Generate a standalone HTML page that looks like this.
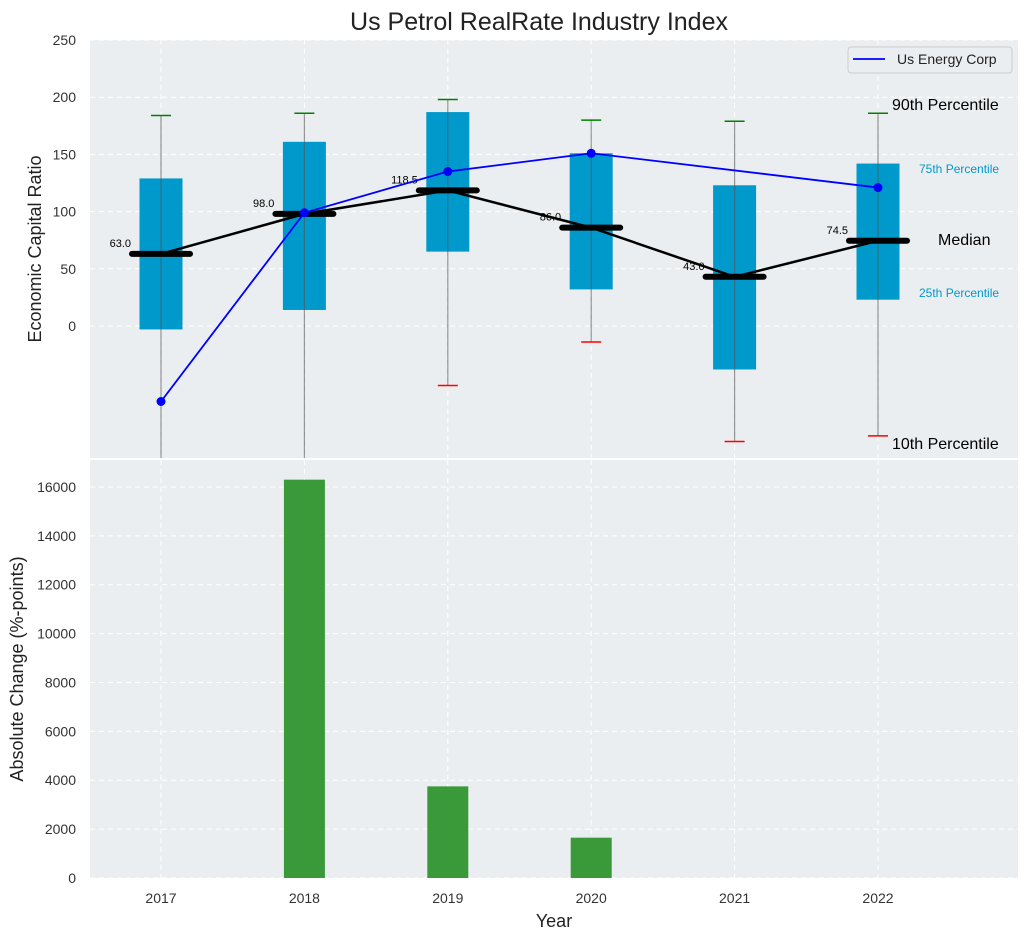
<!DOCTYPE html>
<html><head><meta charset="utf-8"><style>
body{margin:0;background:#fff;font-family:"Liberation Sans",sans-serif}
svg text{font-family:"Liberation Sans",sans-serif}
</style></head><body>
<svg id="c" width="1029" height="940" xmlns="http://www.w3.org/2000/svg"></svg>
<script>
const years=[2017,2018,2019,2020,2021,2022];
const q1=[-3,14,65,32,-38,23];
const q3=[129,161,187,151,123,142];
const medians=[63.0,98.0,118.5,86.0,43.0,74.5];
const p90=[184,186,198,180,179,186];
const p10=[-140,-150,-52,-14,-101,-96];
const energyYears=[2017,2018,2019,2020,2022];
const energyVals=[-66,99,135,151,121];
const changeYears=[2018,2019,2020];
const changeVals=[16300,3750,1650];
const topTicks=[0,50,100,150,200,250];
const botTicks=[0,2000,4000,6000,8000,10000,12000,14000,16000];

const svg=document.getElementById('c');const NS='http://www.w3.org/2000/svg';
function el(t,a,p){const e=document.createElementNS(NS,t);for(const k in a)e.setAttribute(k,a[k]);(p||svg).appendChild(e);return e;}
const L=90,R=1018,T1=40,B1=458,T2=460,B2=878;
const x=v=>161+(v-2017)*143.4;
const y1=v=>326-v*1.144;
const y2=v=>878-v*0.024438;

let t=el('text',{x:539,y:30,'text-anchor':'middle','font-size':25,fill:'#222'});t.textContent='Us Petrol RealRate Industry Index';


let bg=el('rect',{x:L,y:T1,width:R-L,height:B1-T1,fill:'#ebeef0'});
bg=el('rect',{x:L,y:T2,width:R-L,height:B2-T2,fill:'#ebeef0'});

const clip=el('clipPath',{id:'cp'});el('rect',{x:L,y:T1,width:R-L,height:B1-T1},clip);
const g=el('g',{'clip-path':'url(#cp)'});

years.forEach(yr=>{el('line',{x1:x(yr),x2:x(yr),y1:T1,y2:B1,stroke:'#fff','stroke-dasharray':'5,4'},g);el('line',{x1:x(yr),x2:x(yr),y1:T2,y2:B2,stroke:'#fff','stroke-dasharray':'5,4'});});
topTicks.forEach(v=>{el('line',{x1:L,x2:R,y1:y1(v),y2:y1(v),stroke:'#fff','stroke-dasharray':'5,4'},g);
 const tt=el('text',{x:76,y:y1(v)+5,'text-anchor':'end','font-size':14,fill:'#333'});tt.textContent=v;
 });
botTicks.forEach(v=>{el('line',{x1:L,x2:R,y1:y2(v),y2:y2(v),stroke:'#fff','stroke-dasharray':'5,4'});
 const tt=el('text',{x:76,y:y2(v)+5,'text-anchor':'end','font-size':14,fill:'#333'});tt.textContent=v;
 });

years.forEach((yr,i)=>{const cx=x(yr);
 const b=el('rect',{x:cx-21.5,y:y1(q3[i]),width:43,height:y1(q1[i])-y1(q3[i]),fill:'#0099cc'},g);
 
 el('line',{x1:cx,x2:cx,y1:y1(p10[i]),y2:y1(p90[i]),stroke:'#555','stroke-opacity':0.6,'stroke-width':1.2},g);
 el('line',{x1:cx-10,x2:cx+10,y1:y1(p90[i]),y2:y1(p90[i]),stroke:'green','stroke-width':1.5},g);
 el('line',{x1:cx-10,x2:cx+10,y1:y1(p10[i]),y2:y1(p10[i]),stroke:'red','stroke-width':1.5},g);
});
el('polyline',{points:years.map((yr,i)=>x(yr)+','+y1(medians[i])).join(' '),fill:'none',stroke:'#000','stroke-width':2.5},g);
years.forEach((yr,i)=>{const cx=x(yr);
 const m=el('line',{x1:cx-29,x2:cx+29,y1:y1(medians[i]),y2:y1(medians[i]),stroke:'#000','stroke-width':6,'stroke-linecap':'round'},g);
 
 const lt=el('text',{x:cx-30,y:y1(medians[i])-7,'text-anchor':'end','font-size':11,fill:'#000'},g);lt.textContent=medians[i].toFixed(1);
 
});
const pl=el('polyline',{points:energyYears.map((yr,i)=>x(yr)+','+y1(energyVals[i])).join(' '),fill:'none',stroke:'#0000ff','stroke-width':1.8},g);

energyYears.forEach((yr,i)=>{const c=el('circle',{cx:x(yr),cy:y1(energyVals[i]),r:4.5,fill:'#0000ff'},g);
 });

[['90th Percentile',892,110,16,'#000'],['75th Percentile',919,173,12,'#0099cc'],['Median',938,245,16,'#000'],['25th Percentile',919,297,12,'#0099cc'],['10th Percentile',892,449,16,'#000']].forEach(a=>{
 const e=el('text',{x:a[1],y:a[2],'font-size':a[3],fill:a[4]});e.textContent=a[0];
 });

const lg=el('g',{});
el('rect',{x:848,y:47,width:164,height:26,rx:3,fill:'#ebeef0',stroke:'#ccc'},lg);
el('line',{x1:853,x2:885,y1:59,y2:59,stroke:'#0000ff','stroke-width':1.8},lg);
const lt=el('text',{x:897,y:64,'font-size':14,fill:'#222'},lg);lt.textContent='Us Energy Corp';

changeYears.forEach((yr,i)=>{const r=el('rect',{x:x(yr)-20.5,y:y2(changeVals[i]),width:41,height:878-y2(changeVals[i]),fill:'#3a9a3a'});
 });

years.forEach(yr=>{const e=el('text',{x:x(yr),y:903,'text-anchor':'middle','font-size':14,fill:'#333'});e.textContent=yr;
 });
let a=el('text',{x:554,y:927,'text-anchor':'middle','font-size':18,fill:'#222'});a.textContent='Year';

a=el('text',{x:0,y:0,'text-anchor':'middle','font-size':18,fill:'#222',transform:'translate(41,249) rotate(-90)'});a.textContent='Economic Capital Ratio';

a=el('text',{x:0,y:0,'text-anchor':'middle','font-size':18,fill:'#222',transform:'translate(23,669) rotate(-90)'});a.textContent='Absolute Change (%-points)';

</script>
</body></html>
